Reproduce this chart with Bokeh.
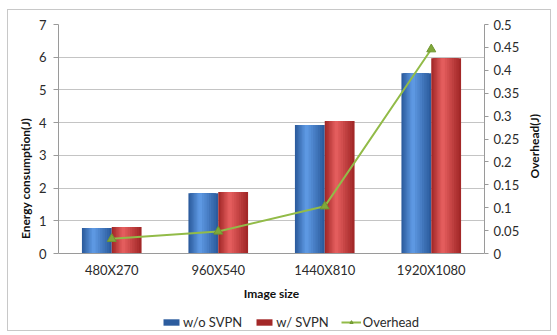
import math
from bokeh.plotting import figure
from bokeh.models import (ColumnDataSource, FactorRange, Range1d, LinearAxis,
                          Legend, LegendItem, FixedTicker)
from bokeh.transform import dodge
from bokeh.embed import file_html
from bokeh.resources import INLINE

# Data
sizes = ["480X270", "960X540", "1440X810", "1920X1080"]
without_svpn = [0.78, 1.84, 3.93, 5.51]
with_svpn = [0.81, 1.88, 4.05, 5.97]
overhead = [0.032, 0.048, 0.103, 0.446]

energy_ticks = [0, 1, 2, 3, 4, 5, 6, 7]
overhead_ticks = [0, 0.05, 0.1, 0.15, 0.2, 0.25, 0.3, 0.35, 0.4, 0.45, 0.5]

src = ColumnDataSource(dict(size=sizes, wo=without_svpn, w=with_svpn, oh=overhead))

FONT = "Lato"
AXIS_GRAY = "#9a9a9a"
GRID_GRAY = "#c4c4c4"
TEXT = "#2b2b2b"

# The frame runs down to the bottom edge; the category axis and the legend
# sit inside it, underneath the zero line.
FRAME_TOP, ZERO_Y, FRAME_BOTTOM = 14, 243, 322   # px inside the canvas
below = (FRAME_BOTTOM - ZERO_Y) / (ZERO_Y - FRAME_TOP)

p = figure(x_range=FactorRange(*sizes, range_padding=0),
           y_range=Range1d(-7 * below, 7),
           width=544, height=322,
           output_backend="svg", toolbar_location=None,
           min_border_left=50, min_border_right=54,
           min_border_top=FRAME_TOP, min_border_bottom=0)
p.margin = (9, 0, 0, 7)
p.styles = {"border": "1px solid #c8c8c8"}
p.outline_line_color = None
p.background_fill_color = "white"
p.border_fill_color = "white"

p.extra_y_ranges = {"oh": Range1d(-0.5 * below, 0.5)}


def mix(c1, c2, t):
    a = [int(c1[i:i + 2], 16) for i in (1, 3, 5)]
    b = [int(c2[i:i + 2], 16) for i in (1, 3, 5)]
    return "#%02x%02x%02x" % tuple(round(a[k] + (b[k] - a[k]) * t) for k in range(3))


# Bars: nested strips shade each bar from a darker rim to a lighter core
bw = 0.28
N = 8


def shaded_bars(col, offset, rim, core):
    first = None
    for i in range(N):
        frac = 1 - i / N
        shift = -(1 - frac) * bw * 0.12
        r = p.vbar(x=dodge("size", offset + shift, range=p.x_range),
                   top=col, width=bw * frac, source=src,
                   fill_color=mix(rim, core, i / (N - 1)), line_color=None)
        if first is None:
            first = r
    return first


blue_main = shaded_bars("wo", -0.14, "#2c5c9e", "#5d98e2")
red_main = shaded_bars("w", 0.14, "#a32828", "#e35d5d")

# Overhead line on the secondary axis
GREEN = "#92bb48"
oh_line = p.line(x="size", y="oh", source=src, y_range_name="oh",
                 line_color=GREEN, line_width=2)
oh_pts = p.scatter(x="size", y="oh", source=src, y_range_name="oh",
                   marker="triangle", size=9, fill_color="#80a83a",
                   line_color="#6f9630")


def style_axis(a):
    a.axis_line_color = AXIS_GRAY
    a.minor_tick_line_color = None
    a.major_label_text_font = FONT
    a.major_label_text_font_size = "13px"
    a.major_label_text_color = TEXT
    a.axis_label_text_font = FONT
    a.axis_label_text_font_size = "12px"
    a.axis_label_text_font_style = "bold"
    a.axis_label_text_color = "#111111"


# Left axis
ax = p.yaxis[0]
style_axis(ax)
ax.ticker = FixedTicker(ticks=energy_ticks)
ax.bounds = (0, 7)
ax.axis_label = "Energy consumption(J)"
ax.major_tick_line_color = AXIS_GRAY
ax.major_tick_out = 5
ax.major_tick_in = 0
ax.axis_label_standoff = 3
ax.major_label_standoff = 7

# Right axis
rax = LinearAxis(y_range_name="oh", axis_label="Overhead(J)",
                 ticker=FixedTicker(ticks=overhead_ticks), bounds=(0, 0.5))
style_axis(rax)
rax.axis_label_orientation = math.pi / 2
rax.major_tick_line_color = AXIS_GRAY
rax.major_tick_out = 4
rax.major_tick_in = 0
rax.major_label_standoff = 5
rax.axis_label_standoff = 12
p.add_layout(rax, "right")

# Category axis pinned to the zero line
xa = p.xaxis[0]
style_axis(xa)
xa.fixed_location = 0
xa.axis_label = "Image size"
xa.major_tick_line_color = None
xa.major_label_standoff = 2
xa.axis_label_standoff = 5

p.xgrid.grid_line_color = None
p.ygrid.grid_line_color = GRID_GRAY
p.ygrid.grid_line_width = 1

legend = Legend(items=[
    LegendItem(label="w/o SVPN", renderers=[blue_main]),
    LegendItem(label="w/ SVPN", renderers=[red_main]),
    LegendItem(label="Overhead", renderers=[oh_line, oh_pts]),
], orientation="horizontal", location=(103, 2))
legend.glyph_width = 20
legend.glyph_height = 8
legend.label_standoff = 2
legend.spacing = 12
legend.padding = 2
legend.margin = 0
legend.border_line_color = None
legend.background_fill_alpha = 0
legend.label_text_font = FONT
legend.label_text_font_size = "13px"
legend.label_text_color = TEXT
p.add_layout(legend, "center")

open("out.html", "w").write(file_html(p, INLINE))
